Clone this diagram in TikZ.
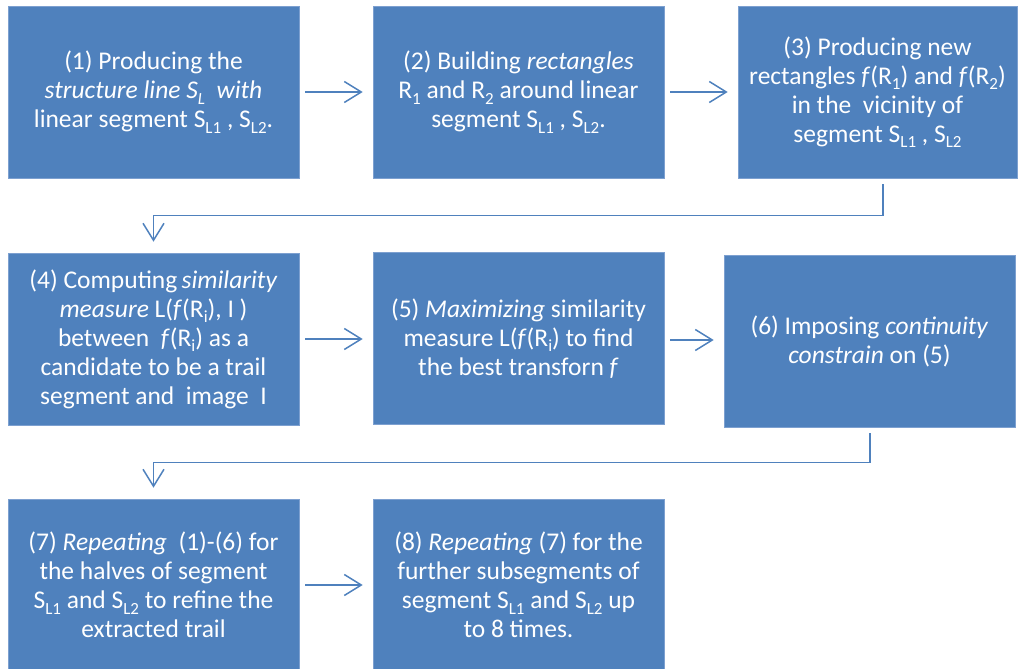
\documentclass[tikz,border=0pt]{standalone}
\usepackage{fontspec}
\setmainfont{Carlito}
\usetikzlibrary{arrows.meta}
\definecolor{stepblue}{RGB}{79,129,189}
\definecolor{stepedge}{RGB}{125,160,208}
\newcommand{\lo}[1]{\raisebox{-0.45ex}{\fontsize{17}{17}\selectfont #1}}

\begin{document}
\begin{tikzpicture}[x=1pt,y=-1pt,
	stepbox/.style={fill=stepblue, draw=stepedge, line width=0.6pt, text=white, align=center, minimum width=291pt, minimum height=172pt, inner sep=0pt, font=\fontsize{25.5}{29}\selectfont},
	flow/.style={draw=stepblue, line width=1.5pt, -{Straight Barb[length=17pt,width=21pt,line width=1.5pt]}},
	gap/.style={shorten <=6pt, shorten >=10pt}]
	\useasboundingbox (0,0) rectangle (1018,669);
	% first row
	\node[stepbox] (produce) at (153.5,92) {(1) Producing the\\\textit{structure line S\lo{L}\ \ with}\\linear segment S\lo{L1} , S\lo{L2}.};
	\node[stepbox] (build) at (518.5,92) {(2) Building \textit{rectangles}\\R\lo{1} and R\lo{2} around linear\\segment S\lo{L1} , S\lo{L2}.};
	\node[stepbox, minimum width=279pt] (newrect) at (877.5,92) {(3) Producing new\\rectangles \textit{f}(R\lo{1}) and \textit{f}(R\lo{2})\\in the\ \ vicinity of\\segment S\lo{L1} , S\lo{L2}};
	% second row
	\node[stepbox] (compute) at (153.5,339) {(4) Computing\,\textit{similarity}\\\textit{measure} L(\textit{f}(R\lo{i}), I )\\between\ \ \textit{f}(R\lo{i}) as a\\candidate to be a trail\\segment and\ \ image\ \ I};
	\node[stepbox] (maximize) at (518.5,338.5) {(5) \textit{Maximizing} similarity\\measure L(\textit{f}(R\lo{i}) to find\\the best transforn \textit{f}};
	\node[stepbox] (impose) at (869.5,341) {(6) Imposing \textit{continuity}\\\textit{constrain} on (5)};
	% third row
	\node[stepbox] (repeat) at (153.5,585) {(7) \textit{Repeating}\ \ (1)-(6) for\\the halves of segment\\S\lo{L1} and S\lo{L2} to refine the\\extracted trail};
	\node[stepbox] (further) at (518.5,585) {(8) \textit{Repeating} (7) for the\\further subsegments of\\segment S\lo{L1} and S\lo{L2} up\\to 8 times.};

	\draw[flow, gap] (produce.east) -- (build.west);
	\draw[flow, gap] (build.east) -- (build.east -| newrect.west);
	\draw[flow] ([xshift=5.5pt,yshift=-6pt]newrect.south) -- ++(0,31) -| ([yshift=11pt]compute.north);
	\draw[flow, gap] (compute.east) -- (compute.east -| maximize.west);
	\draw[flow, gap] ([yshift=-1.5pt]maximize.east) -- ([yshift=-1.5pt]maximize.east -| impose.west);
	\draw[flow] ([xshift=0.5pt,yshift=-6pt]impose.south) -- ++(0,29) -| ([yshift=11pt]repeat.north);
	\draw[flow, gap] (repeat.east) -- (further.west);
\end{tikzpicture}
\end{document}
